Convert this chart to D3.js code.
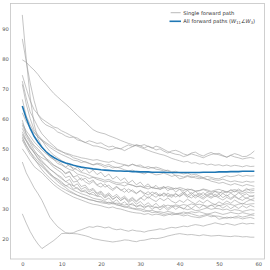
<!DOCTYPE html>
<html lang="en">
<head>
<meta charset="UTF-8">
<title>Forward paths</title>
<script src="https://d3js.org/d3.v7.min.js"></script>
<style>
  body { margin: 0; background: #fff; }
  svg { display: block; font-family: "DejaVu Sans", sans-serif; }
</style>
</head>
<body>
<svg id="chart"></svg>
<script>
// tick labels
let xTicks = [0, 10, 20, 30, 40, 50, 60];
let yTicks = [20, 30, 40, 50, 60, 70, 80, 90];

// all forward paths combined (blue)
let allPaths = [64.3, 60.2, 56.8, 54.2, 52.2, 50.5, 49.1, 48.0, 47.1, 46.4,
  45.8, 45.3, 44.9, 44.5, 44.2, 43.9, 43.7, 43.5, 43.3, 43.2,
  43.0, 42.9, 42.8, 42.7, 42.6, 42.6, 42.5, 42.5, 42.4, 42.4,
  42.3, 42.3, 42.3, 42.2, 42.2, 42.2, 42.2, 42.1, 42.1, 42.1,
  42.1, 42.1, 42.1, 42.1, 42.1, 42.1, 42.2, 42.2, 42.2, 42.2,
  42.3, 42.3, 42.3, 42.4, 42.4, 42.4, 42.5, 42.5, 42.5, 42.5];

// single forward paths (grey), one per array
let pathA = [94.7, 80.1, 67.3, 58.2, 53.4, 50.6, 48.9, 47.2, 46.5, 45.1,
  44.6, 43.8, 43.1, 42.7, 41.6, 41.2, 40.8, 40.1, 40.5, 39.8,
  39.4, 38.9, 39.2, 38.6, 38.1, 38.0, 37.6, 38.2, 37.9, 37.3,
  37.5, 37.0, 36.6, 37.2, 36.8, 36.5, 36.9, 37.4, 37.0, 36.6,
  37.1, 36.7, 36.2, 36.5, 35.9, 36.1, 36.6, 36.3, 35.8, 36.2,
  36.5, 36.0, 35.7, 36.1, 36.4, 36.0, 35.8, 36.3, 36.5, 36.7];
let pathB = [86.7, 79.2, 72.0, 66.1, 61.4, 59.2, 58.0, 57.4, 56.8, 55.6,
  55.1, 54.3, 53.8, 53.9, 53.0, 52.6, 52.1, 52.7, 52.3, 51.8,
  52.0, 51.2, 50.6, 50.9, 50.2, 50.0, 50.7, 51.3, 50.8, 51.4,
  51.0, 50.3, 50.9, 50.4, 49.6, 50.0, 49.2, 48.6, 49.3, 49.5,
  49.0, 48.3, 47.9, 48.6, 48.9, 48.1, 47.6, 48.3, 48.8, 48.2,
  48.5, 47.8, 47.2, 47.9, 48.4, 48.0, 47.4, 47.5, 48.2, 49.3];
let pathC = [79.7, 78.9, 77.5, 76.3, 74.8, 73.0, 71.6, 70.0, 68.5, 67.3,
  66.1, 65.0, 63.8, 62.5, 61.2, 60.0, 58.9, 57.6, 56.4, 55.7,
  55.3, 55.0, 54.4, 53.9, 53.4, 52.8, 52.3, 51.8, 51.4, 51.0,
  50.5, 50.0, 49.5, 49.0, 48.6, 48.2, 47.9, 47.4, 46.8, 46.4,
  46.0, 45.6, 45.8, 45.2, 45.4, 44.9, 45.1, 44.6, 44.9, 44.5,
  44.7, 44.3, 44.6, 44.2, 44.5, 44.3, 44.0, 44.4, 44.1, 44.2];
let pathD = [74.6, 70.2, 66.0, 63.1, 61.5, 60.0, 59.1, 58.2, 57.3, 56.9,
  56.0, 55.4, 54.7, 54.0, 53.6, 52.8, 52.1, 51.6, 51.0, 50.9,
  50.5, 50.1, 49.6, 49.9, 50.4, 50.0, 49.4, 50.1, 50.7, 51.2,
  51.0, 51.4, 50.8, 50.2, 50.9, 50.5, 49.8, 49.1, 48.6, 48.2,
  48.0, 47.4, 47.8, 48.3, 47.9, 47.5, 47.0, 47.6, 48.1, 48.4,
  48.0, 47.6, 47.2, 47.8, 47.3, 47.0, 46.6, 46.9, 47.1, 46.8];
let pathE = [72.6, 67.0, 62.3, 59.8, 57.2, 55.0, 53.6, 52.1, 51.0, 49.8,
  49.2, 48.3, 47.9, 47.0, 46.6, 46.1, 45.5, 45.2, 44.6, 44.9,
  44.5, 43.8, 44.2, 43.6, 43.9, 43.5, 43.0, 42.6, 42.9, 42.3,
  42.0, 41.6, 42.2, 41.8, 41.3, 41.5, 41.9, 41.4, 40.8, 41.2,
  41.0, 40.6, 41.1, 40.7, 40.3, 40.0, 40.4, 40.8, 40.5, 40.1,
  40.0, 40.6, 41.0, 40.7, 40.9, 41.3, 40.8, 41.1, 40.9, 41.0];
let pathF = [71.5, 65.0, 60.1, 56.4, 54.6, 53.0, 50.8, 49.2, 47.9, 47.0,
  46.1, 45.3, 44.2, 43.6, 42.9, 42.1, 41.8, 41.2, 40.6, 40.3,
  40.0, 39.5, 39.8, 39.1, 38.7, 38.5, 38.9, 38.2, 37.8, 37.4,
  37.6, 37.1, 37.5, 37.0, 36.7, 37.0, 37.3, 36.8, 36.4, 36.9,
  36.5, 36.1, 36.6, 36.3, 35.8, 36.0, 36.4, 35.9, 35.5, 35.8,
  35.5, 35.2, 35.7, 35.4, 35.9, 35.5, 35.1, 35.6, 35.3, 35.4];
let pathG = [66.5, 61.0, 58.1, 55.6, 54.0, 52.6, 51.7, 50.5, 49.6, 48.8,
  48.1, 47.5, 46.9, 46.2, 46.0, 45.4, 45.8, 45.1, 44.7, 45.2,
  45.0, 44.4, 44.8, 44.1, 43.7, 44.0, 44.6, 44.2, 44.9, 44.4,
  44.6, 43.9, 43.4, 43.8, 43.2, 43.0, 42.6, 42.9, 42.3, 42.5,
  42.0, 41.6, 41.9, 41.3, 41.5, 41.0, 40.4, 39.8, 39.2, 38.9,
  38.5, 38.8, 38.3, 37.9, 38.4, 38.0, 37.6, 38.1, 37.8, 37.5];
let pathH = [59.6, 55.0, 52.5, 50.7, 49.3, 48.1, 46.8, 45.9, 44.6, 43.8,
  43.1, 41.6, 42.3, 40.5, 39.4, 40.3, 39.0, 38.2, 39.1, 37.8,
  37.2, 38.3, 37.0, 36.1, 37.2, 36.4, 35.5, 36.6, 35.8, 35.0,
  36.1, 35.3, 34.6, 35.6, 34.9, 34.2, 35.3, 34.5, 33.8, 34.9,
  34.2, 35.1, 34.3, 33.6, 34.6, 33.9, 33.2, 34.2, 33.5, 34.3,
  33.6, 32.9, 33.8, 33.1, 34.0, 33.3, 32.8, 33.7, 33.0, 33.4];
let pathI = [57.9, 55.0, 53.1, 51.2, 50.0, 48.5, 46.9, 45.1, 43.8, 42.9,
  42.0, 40.4, 40.9, 38.9, 39.2, 37.4, 37.9, 36.2, 36.8, 35.2,
  35.9, 34.4, 35.3, 33.9, 34.8, 33.4, 34.2, 32.9, 33.8, 32.6,
  33.7, 32.8, 34.0, 33.1, 32.4, 33.5, 32.7, 33.6, 32.5, 31.9,
  32.8, 32.1, 33.2, 32.3, 31.6, 32.7, 31.9, 32.9, 32.0, 31.4,
  32.3, 31.6, 32.6, 31.8, 32.9, 32.1, 31.5, 32.4, 33.0, 32.6];
let pathJ = [56.8, 54.1, 52.0, 49.6, 47.8, 46.0, 44.7, 43.3, 42.2, 41.0,
  40.0, 39.1, 38.3, 37.6, 36.7, 36.0, 35.6, 35.0, 34.7, 34.2,
  34.0, 32.8, 33.6, 32.1, 33.0, 31.5, 32.3, 31.0, 31.9, 30.5,
  31.4, 30.1, 31.0, 29.8, 30.7, 29.6, 30.6, 29.5, 30.5, 30.9,
  30.5, 30.1, 29.7, 30.0, 29.4, 29.5, 29.9, 30.3, 29.8, 30.1,
  30.0, 29.6, 29.9, 29.3, 29.7, 29.5, 29.1, 29.4, 29.7, 29.5];
let pathK = [55.7, 53.0, 51.0, 48.8, 46.6, 45.0, 43.4, 42.0, 40.6, 39.6,
  38.5, 37.8, 37.0, 36.2, 35.6, 35.0, 34.6, 34.1, 33.5, 33.2,
  33.0, 32.4, 31.9, 32.2, 31.5, 31.0, 30.7, 30.3, 30.0, 29.7,
  29.5, 29.0, 29.3, 28.7, 28.9, 28.5, 28.1, 28.4, 27.9, 28.2,
  28.0, 27.6, 27.9, 27.4, 27.2, 27.0, 27.4, 27.8, 27.3, 27.6,
  27.5, 27.1, 26.8, 27.2, 26.9, 27.0, 26.6, 26.9, 27.1, 26.7];
let pathL = [54.5, 52.6, 50.2, 49.0, 47.9, 47.0, 46.3, 45.4, 44.5, 43.8,
  43.0, 41.9, 42.5, 40.6, 41.1, 39.5, 40.2, 38.9, 39.6, 38.0,
  38.6, 37.2, 37.9, 36.6, 37.5, 36.1, 36.8, 35.4, 36.3, 35.2,
  36.0, 34.8, 35.7, 34.6, 35.5, 34.3, 35.1, 34.0, 34.8, 33.9,
  34.7, 35.6, 34.5, 35.4, 34.3, 35.2, 34.4, 35.5, 34.7, 35.8,
  35.0, 36.1, 35.3, 36.4, 35.6, 36.6, 35.7, 36.8, 35.9, 36.2];
let pathM = [54.0, 51.3, 49.0, 46.8, 44.9, 43.0, 41.5, 40.2, 39.0, 37.9,
  37.0, 36.3, 35.6, 35.0, 34.5, 34.0, 33.6, 33.1, 32.8, 32.4,
  32.0, 31.8, 32.2, 31.6, 31.9, 31.5, 31.2, 31.6, 31.3, 30.9,
  31.0, 30.6, 31.0, 30.7, 30.4, 30.5, 30.8, 31.2, 30.9, 31.3,
  31.0, 31.4, 31.1, 31.6, 31.3, 31.5, 31.2, 30.8, 31.1, 31.4,
  31.0, 31.3, 31.7, 31.4, 31.1, 31.5, 31.8, 31.4, 31.6, 31.7];
let pathN = [52.9, 50.4, 48.1, 46.5, 45.2, 44.0, 42.8, 41.5, 40.6, 39.9,
  39.0, 37.6, 38.2, 36.5, 37.1, 35.6, 36.3, 34.8, 35.6, 34.2,
  35.0, 33.6, 34.5, 33.2, 34.1, 32.8, 33.7, 32.5, 33.4, 32.3,
  33.4, 34.5, 33.5, 34.6, 33.8, 35.0, 34.1, 35.2, 34.3, 35.1,
  34.0, 34.9, 33.8, 34.7, 33.6, 34.5, 33.7, 34.8, 33.9, 34.9,
  34.0, 35.1, 34.2, 35.2, 34.3, 35.3, 34.4, 35.0, 34.1, 34.5];
let pathO = [50.0, 48.1, 46.0, 44.1, 43.0, 42.0, 40.6, 39.3, 38.0, 37.0,
  36.1, 35.3, 34.6, 33.9, 33.4, 32.9, 32.4, 31.9, 31.5, 31.3,
  31.0, 30.6, 30.3, 30.6, 30.1, 29.9, 29.5, 29.1, 28.8, 28.6,
  28.5, 28.1, 28.4, 27.9, 28.2, 28.0, 27.6, 28.0, 28.4, 28.1,
  28.5, 28.9, 28.6, 29.0, 28.7, 29.0, 28.6, 28.2, 28.5, 28.9,
  28.5, 28.1, 28.4, 28.8, 28.5, 28.3, 28.7, 28.4, 28.1, 28.4];
let pathP = [45.6, 42.0, 39.5, 37.0, 35.0, 32.8, 30.0, 27.2, 25.5, 24.0,
  23.0, 22.0, 21.7, 22.0, 22.6, 23.0, 23.5, 24.0, 23.8, 24.2,
  24.0, 23.6, 23.9, 23.3, 23.0, 23.2, 22.8, 22.5, 22.9, 22.6,
  22.5, 22.2, 22.6, 22.8, 23.0, 23.3, 23.1, 23.5, 23.8, 23.6,
  23.9, 24.2, 24.0, 24.4, 24.7, 24.5, 24.2, 24.6, 24.9, 25.3,
  25.0, 24.7, 25.1, 24.8, 24.5, 24.9, 25.2, 24.9, 25.1, 25.0];
let pathQ = [28.3, 25.2, 22.4, 20.1, 18.2, 16.7, 17.6, 18.5, 19.4, 20.5,
  21.7, 21.8, 21.9, 21.7, 21.6, 21.3, 21.0, 20.6, 20.0, 19.8,
  19.5, 19.3, 19.1, 18.9, 19.1, 19.3, 19.6, 19.5, 19.2, 19.0,
  19.4, 19.5, 19.8, 20.1, 20.0, 20.2, 20.5, 20.9, 21.2, 21.5,
  21.7, 21.5, 21.3, 21.4, 21.2, 21.0, 21.3, 21.1, 20.9, 21.0,
  21.1, 20.9, 20.8, 20.7, 20.9, 20.8, 20.6, 20.7, 20.5, 20.5];
let pathR = [58.5, 56.0, 54.2, 52.3, 51.0, 49.6, 48.4, 47.5, 46.4, 45.8,
  45.0, 43.9, 44.8, 43.0, 43.9, 42.4, 43.5, 41.9, 42.9, 41.4,
  42.2, 40.6, 41.6, 39.9, 40.8, 39.4, 40.3, 38.6, 39.5, 38.0,
  38.9, 37.4, 38.3, 36.9, 37.8, 36.4, 37.4, 36.0, 36.9, 35.6,
  36.5, 35.2, 36.1, 34.9, 35.8, 34.6, 35.4, 34.3, 35.2, 34.0,
  34.9, 33.7, 34.6, 33.5, 34.4, 33.3, 34.2, 33.4, 34.3, 33.9];
let pathS = [55.0, 52.7, 50.5, 48.6, 47.0, 45.5, 44.4, 43.2, 42.3, 41.3,
  40.5, 39.0, 39.8, 37.6, 38.3, 36.5, 37.2, 35.6, 36.4, 34.8,
  35.5, 34.0, 34.8, 33.1, 34.0, 32.7, 33.5, 32.1, 32.9, 31.5,
  32.4, 31.1, 32.0, 30.8, 31.8, 30.5, 31.4, 30.1, 31.0, 29.8,
  30.7, 29.9, 31.0, 30.1, 31.1, 30.2, 31.2, 30.3, 31.3, 30.4,
  31.2, 30.2, 31.1, 30.0, 30.9, 30.1, 31.0, 30.3, 31.1, 30.6];
let pathT = [53.5, 51.0, 49.0, 47.4, 45.8, 44.5, 43.0, 41.4, 40.2, 39.0,
  38.0, 37.1, 36.0, 35.3, 34.5, 34.0, 33.5, 33.0, 32.8, 32.4,
  32.5, 32.0, 31.5, 31.8, 31.2, 31.0, 30.5, 30.8, 30.2, 30.0,
  30.0, 29.6, 29.2, 29.5, 29.0, 29.0, 28.7, 29.1, 28.8, 28.4,
  28.5, 28.2, 28.6, 28.3, 27.9, 27.5, 27.8, 28.2, 27.9, 27.5,
  26.5, 26.8, 27.2, 26.9, 27.3, 27.6, 27.2, 27.5, 27.9, 27.8];
let pathU = [62.0, 59.0, 57.0, 55.3, 54.0, 53.0, 52.1, 51.2, 50.3, 49.6,
  49.0, 48.6, 48.2, 47.7, 47.4, 47.0, 46.8, 46.5, 46.2, 46.4,
  46.0, 45.7, 45.5, 45.9, 45.3, 45.0, 44.7, 44.4, 44.8, 44.3,
  44.0, 43.7, 44.1, 43.6, 43.9, 43.5, 43.0, 42.6, 42.0, 41.0,
  40.0, 40.3, 40.8, 40.4, 40.9, 40.5, 40.1, 39.7, 40.0, 39.6,
  39.5, 39.9, 39.4, 39.0, 39.3, 39.0, 38.8, 39.2, 38.9, 39.0];

let singlePaths = [pathA, pathB, pathC, pathD, pathE, pathF, pathG, pathH, pathI, pathJ,
  pathK, pathL, pathM, pathN, pathO, pathP, pathQ, pathR, pathS, pathT, pathU];

let width = 270, height = 270;
let frame = {left: 10.5, right: 264.5, top: 3.5, bottom: 259};

let svg = d3.select("#chart")
    .attr("width", width)
    .attr("height", height);

let x = d3.scaleLinear().domain([0, 60]).range([22.3, 258.3]);
let y = d3.scaleLinear().domain([20, 90]).range([238.7, 29]);

let line = d3.line()
    .x((d, i) => x(i))
    .y(d => y(d));

// grey single paths
svg.append("g")
    .selectAll("path")
    .data(singlePaths)
    .enter()
    .append("path")
    .attr("d", line)
    .attr("fill", "none")
    .attr("stroke", "#9c9c9c")
    .attr("stroke-opacity", 0.85)
    .attr("stroke-width", 0.7);

// combined path
svg.append("path")
    .datum(allPaths)
    .attr("d", line)
    .attr("fill", "none")
    .attr("stroke", "#1f77b4")
    .attr("stroke-width", 1.6);

// axes frame
svg.append("rect")
    .attr("x", frame.left)
    .attr("y", frame.top)
    .attr("width", frame.right - frame.left)
    .attr("height", frame.bottom - frame.top)
    .attr("fill", "none")
    .attr("stroke", "#c4c4c4")
    .attr("stroke-width", 0.8);

let xAxis = svg.append("g")
    .attr("transform", "translate(0," + frame.bottom + ")")
    .call(d3.axisBottom(x).tickValues(xTicks).tickSize(0).tickPadding(3.4));
let yAxis = svg.append("g")
    .attr("transform", "translate(" + frame.left + ",0)")
    .call(d3.axisLeft(y).tickValues(yTicks).tickSize(0).tickPadding(1.6));

[xAxis, yAxis].forEach(a => {
    a.select(".domain").remove();
    a.selectAll("text")
        .attr("fill", "#555")
        .style("font-family", "DejaVu Sans, sans-serif")
        .style("font-size", "5.2px");
});

// legend
let legend = svg.append("g").style("font-size", "5.2px").attr("fill", "#333");
legend.append("line")
    .attr("x1", 170.7).attr("x2", 180.7).attr("y1", 12.7).attr("y2", 12.7)
    .attr("stroke", "#9c9c9c").attr("stroke-width", 0.7);
legend.append("text")
    .attr("x", 183.3).attr("y", 12.7).attr("dy", "0.35em")
    .text("Single forward path");
legend.append("line")
    .attr("x1", 169.5).attr("x2", 181).attr("y1", 21.3).attr("y2", 21.3)
    .attr("stroke", "#1f77b4").attr("stroke-width", 1.6);
let label = legend.append("text")
    .attr("x", 183.3).attr("y", 21.3).attr("dy", "0.35em");
label.append("tspan").text("All forward paths (");
label.append("tspan").attr("font-style", "italic").text("W");
label.append("tspan").attr("dy", 1).style("font-size", "3.7px").text("11");
label.append("tspan").attr("dy", -1).text("\u2220");
label.append("tspan").attr("font-style", "italic").text("W");
label.append("tspan").attr("dy", 1).style("font-size", "3.7px").text("3");
label.append("tspan").attr("dy", -1).text(")");
</script>
</body>
</html>
